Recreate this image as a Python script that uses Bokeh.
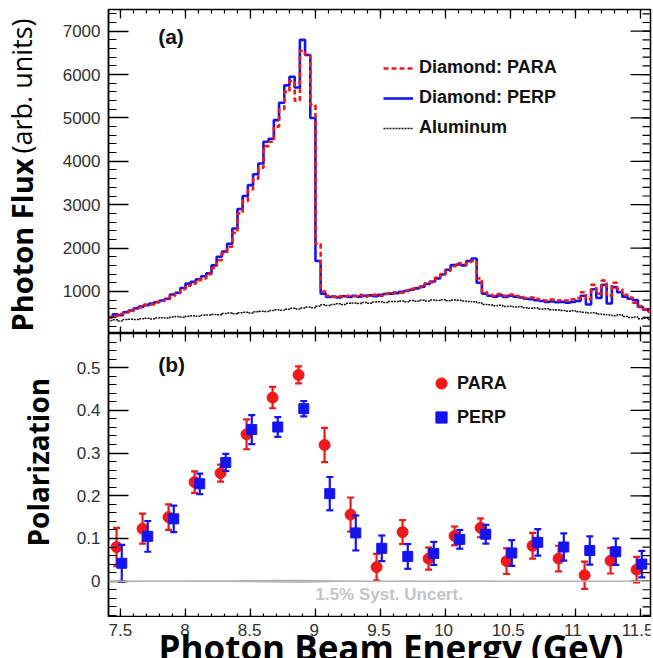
import math

from bokeh.core.properties import value
from bokeh.embed import file_html
from bokeh.layouts import column, row
from bokeh.models import (CustomJSTickFormatter, FixedTicker, Label, Legend,
                          LinearAxis, Range1d, Span)
from bokeh.plotting import figure
from bokeh.resources import INLINE

# ---------------------------------------------------------------- data
# Photon flux histograms, 0.04 GeV bins starting at 7.40 GeV
BIN_START = 7.40
BIN_WIDTH = 0.04

flux_perp = [
    410, 470, 450, 520, 560, 610, 650, 680, 720, 750,
    790, 830, 930, 970, 1080, 1180, 1220, 1280, 1350, 1420,
    1600, 1800, 1920, 2100, 2450, 2900, 3200, 3450, 3700, 3950,
    4450, 4520, 4950, 5350, 5750, 5950, 5700, 6800, 6450, 5000,
    1700, 950, 870, 880, 860, 890, 870, 900, 880, 900,
    910, 890, 920, 940, 950, 960, 990, 1010, 1040, 1070,
    1110, 1170, 1230, 1300, 1390, 1500, 1610, 1620, 1600, 1700,
    1760, 1200, 950, 900, 880, 910, 870, 900, 880, 860,
    830, 820, 800, 780, 760, 770, 750, 760, 740, 760,
    780, 900, 700, 1050, 850, 1150, 720, 1100, 980, 880,
    830, 800, 640, 580, 540,
]

flux_para = [
    400, 440, 480, 510, 540, 600, 630, 700, 700, 760,
    780, 820, 900, 960, 1050, 1130, 1180, 1260, 1300, 1400,
    1540, 1720, 1880, 2030, 2350, 2800, 3080, 3350, 3600, 3850,
    4350, 4450, 4800, 5200, 5600, 5850, 5400, 6550, 6450, 5300,
    2100, 1000, 900, 870, 890, 880, 900, 890, 920, 880,
    900, 920, 900, 950, 960, 980, 970, 1020, 1060, 1080,
    1100, 1190, 1210, 1320, 1400, 1480, 1580, 1650, 1620, 1680,
    1700, 1300, 980, 920, 900, 940, 900, 930, 900, 880,
    850, 860, 830, 800, 790, 810, 790, 800, 790, 820,
    850, 980, 820, 1150, 950, 1250, 900, 1200, 1050, 920,
    860, 740, 660, 590, 540,
]

flux_alu = [
    330, 345, 320, 350, 360, 355, 370, 380, 365, 385,
    395, 390, 410, 420, 405, 430, 440, 425, 450, 455,
    470, 460, 490, 500, 485, 510, 520, 505, 530, 545,
    535, 560, 575, 565, 590, 610, 595, 620, 640, 625,
    660, 690, 675, 700, 715, 700, 725, 735, 720, 745,
    730, 755, 760, 745, 770, 765, 780, 760, 790, 775,
    795, 780, 800, 790, 810, 785, 800, 795, 780, 770,
    760, 740, 700, 690, 670, 680, 655, 660, 640, 645,
    625, 610, 620, 595, 600, 580, 570, 560, 545, 555,
    530, 520, 500, 510, 480, 470, 455, 440, 460, 420,
    400, 410, 370, 380, 350,
]

# Polarization per 0.2 GeV energy bin
pol_energy = [7.5, 7.7, 7.9, 8.1, 8.3, 8.5, 8.7, 8.9, 9.1, 9.3, 9.5,
              9.7, 9.9, 10.1, 10.3, 10.5, 10.7, 10.9, 11.1, 11.3, 11.5]
pol_para = [0.080, 0.123, 0.150, 0.232, 0.253, 0.344, 0.430, 0.483, 0.319,
            0.156, 0.033, 0.115, 0.053, 0.106, 0.125, 0.047, 0.083, 0.053,
            0.014, 0.048, 0.027]
pol_para_err = [0.045, 0.035, 0.030, 0.025, 0.020, 0.035, 0.025, 0.020, 0.040,
                0.040, 0.031, 0.028, 0.026, 0.022, 0.022, 0.030, 0.030, 0.030,
                0.032, 0.030, 0.030]
pol_perp = [0.042, 0.105, 0.146, 0.228, 0.278, 0.355, 0.361, 0.404, 0.205,
            0.113, 0.077, 0.058, 0.065, 0.098, 0.110, 0.066, 0.091, 0.080,
            0.072, 0.069, 0.040]
pol_perp_err = [0.043, 0.036, 0.031, 0.024, 0.020, 0.034, 0.023, 0.018, 0.039,
                0.041, 0.030, 0.029, 0.027, 0.022, 0.022, 0.030, 0.031, 0.032,
                0.033, 0.031, 0.031]
SYST_FRACTION = 0.015

# axis ticks
energy_ticks = [7.5, 8, 8.5, 9, 9.5, 10, 10.5, 11, 11.5]
energy_tick_labels = ["7.5", "8", "8.5", "9", "9.5", "10", "10.5", "11", "11.5"]
flux_ticks = [1000, 2000, 3000, 4000, 5000, 6000, 7000]
pol_ticks = [0, 0.1, 0.2, 0.3, 0.4, 0.5]

# ---------------------------------------------------------------- style
RED = "#f01818"
BLUE = "#1414f0"
TICK_FONT = "Liberation Sans"
TITLE_FONT = "Open Sans"

X_LO, X_HI = 7.408, 11.577
FLUX_LO, FLUX_HI = 30, 7500
POL_LO, POL_HI = -0.085, 0.58

energy_minor = [round(7.4 + 0.1 * i, 1) for i in range(43)]
flux_minor = [200 * i for i in range(1, 38)]
pol_minor = [round(-0.08 + 0.02 * i, 2) for i in range(34)]

x_range = Range1d(X_LO, X_HI)


def new_panel(frame_h, y_range, top):
    p = figure(width=597, height=frame_h + top, x_range=x_range, y_range=y_range,
               output_backend="svg", toolbar_location=None,
               x_axis_location=None, y_axis_location=None,
               min_border_left=52, min_border_right=3,
               min_border_top=top, min_border_bottom=0)
    p.grid.visible = False
    p.outline_line_color = "black"
    p.outline_line_width = 1.5
    p.background_fill_color = "white"
    p.border_fill_color = "white"
    return p


def left_axis(p, ticks, minor, formatter=None):
    ax = LinearAxis(ticker=FixedTicker(ticks=ticks, minor_ticks=minor))
    if formatter is not None:
        ax.formatter = formatter
    ax.major_tick_in = 20
    ax.major_tick_out = 0
    ax.minor_tick_in = 8
    ax.minor_tick_out = 0
    ax.axis_line_color = "black"
    ax.axis_line_width = 1.5
    ax.major_tick_line_width = 1.3
    ax.minor_tick_line_width = 1.2
    ax.major_label_text_font = TICK_FONT
    ax.major_label_text_font_size = "17px"
    ax.major_label_text_color = "#303030"
    ax.major_label_standoff = 8
    p.add_layout(ax, "left")


def edge_ticks(p, xs_major, xs_minor, y_edge, major_len, minor_len):
    # inward ticks on a horizontal frame edge (half of each dash is clipped)
    p.scatter(xs_major, [y_edge] * len(xs_major), marker="dash",
              angle=math.pi / 2, size=2 * major_len, line_color="black",
              line_width=1.3)
    p.scatter(xs_minor, [y_edge] * len(xs_minor), marker="dash",
              angle=math.pi / 2, size=2 * minor_len, line_color="black",
              line_width=1.2)


def right_ticks(p, ys_major, ys_minor):
    p.scatter([X_HI] * len(ys_major), ys_major, marker="dash", size=40,
              line_color="black", line_width=1.3)
    p.scatter([X_HI] * len(ys_minor), ys_minor, marker="dash", size=16,
              line_color="black", line_width=1.2)


# ---------------------------------------------------------------- (a) flux
p1 = new_panel(324, Range1d(FLUX_LO, FLUX_HI), 9)
left_axis(p1, flux_ticks, flux_minor)
edge_ticks(p1, energy_ticks, energy_minor, FLUX_HI, 9, 4)
edge_ticks(p1, energy_ticks, energy_minor, FLUX_LO, 7, 4)
right_ticks(p1, flux_ticks, flux_minor)

edges = [round(BIN_START + BIN_WIDTH * i, 2) for i in range(len(flux_perp) + 1)]

r_alu = p1.step(edges, flux_alu + [flux_alu[-1]], mode="after",
                line_color="#111111", line_width=1.5, line_dash="2 1")
r_perp = p1.step(edges, flux_perp + [flux_perp[-1]], mode="after",
                 line_color=BLUE, line_width=2.6)
r_para = p1.step(edges, flux_para + [flux_para[-1]], mode="after",
                 line_color=RED, line_width=2.6, line_dash="5 3")

leg1 = Legend(items=[("Diamond: PARA", [r_para]), ("Diamond: PERP", [r_perp]),
                     ("Aluminum", [r_alu])],
              location=(275, 195), margin=0, padding=0, spacing=9,
              glyph_width=30, glyph_height=20, label_height=20, label_standoff=6,
              label_text_font=TICK_FONT, label_text_font_style="bold",
              label_text_font_size="18px", label_text_color="#111111",
              border_line_alpha=0, background_fill_alpha=0)
p1.add_layout(leg1)

p1.add_layout(Label(x=7.79, y=6608, text="(a)", text_font=TICK_FONT,
                    text_font_style="bold", text_font_size="21px",
                    text_color="#111111"))

# ---------------------------------------------------------------- (b) polarization
p2 = new_panel(284, Range1d(POL_LO, POL_HI), 0)
left_axis(p2, pol_ticks, pol_minor, CustomJSTickFormatter(code="return String(tick)"))
edge_ticks(p2, energy_ticks, energy_minor, POL_HI, 8, 4)
edge_ticks(p2, energy_ticks, energy_minor, POL_LO, 9, 4)
right_ticks(p2, pol_ticks, pol_minor)

# systematic-uncertainty band around zero
p2.add_layout(Span(location=0, dimension="width", line_color="#b4b4b4",
                   line_width=1.6))
band_hi = [SYST_FRACTION * v / 2 for v in pol_para]
band_lo = [-SYST_FRACTION * v / 2 for v in pol_para]
p2.varea(x=pol_energy, y1=band_lo, y2=band_hi, fill_color="#a8a8a8")

x_para = [e - 0.03 for e in pol_energy]
x_perp = [e + 0.01 for e in pol_energy]


def error_points(xs, ys, errs, color, marker, size):
    lo = [y - e for y, e in zip(ys, errs)]
    hi = [y + e for y, e in zip(ys, errs)]
    p2.segment(x0=xs, y0=lo, x1=xs, y1=hi, line_color=color, line_width=2.2)
    p2.scatter(xs + xs, lo + hi, marker="dash", size=7, line_color=color,
               line_width=2.2)
    return p2.scatter(xs, ys, marker=marker, size=size, fill_color=color,
                      line_color=color)


r_ppara = error_points(x_para, pol_para, pol_para_err, RED, "circle", 11)
r_pperp = error_points(x_perp, pol_perp, pol_perp_err, BLUE, "square", 10)

leg2 = Legend(items=[("PARA", [r_ppara]), ("PERP", [r_pperp])],
              location=(319, 186), margin=0, padding=0, spacing=6,
              glyph_width=28, glyph_height=28, label_height=28, label_standoff=2,
              label_text_font=TICK_FONT, label_text_font_style="bold",
              label_text_font_size="18px", label_text_color="#111111",
              border_line_alpha=0, background_fill_alpha=0)
p2.add_layout(leg2)

p2.add_layout(Label(x=7.79, y=0.481, text="(b)", text_font=TICK_FONT,
                    text_font_style="bold", text_font_size="21px",
                    text_color="#111111"))
p2.add_layout(Label(x=9.0, y=-0.054, text="1.5% Syst. Uncert.",
                    text_font=TICK_FONT, text_font_style="bold",
                    text_font_size="17px", text_color="#c4c4c4"))

# ---------------------------------------------------------------- energy axis labels
# strip below the lower panel, sharing its horizontal scale (130 px per GeV)
xb = figure(width=597, height=41, x_range=Range1d(X_LO, X_HI + 3 / 130),
            y_range=Range1d(0, 41), output_backend="svg", toolbar_location=None,
            x_axis_location=None, y_axis_location=None,
            min_border_left=52, min_border_right=0, min_border_top=0,
            min_border_bottom=0)
xb.grid.visible = False
xb.outline_line_color = None
xb.text(x=energy_ticks, y=[29] * len(energy_ticks), text=energy_tick_labels,
        text_align="center", text_baseline="alphabetic",
        text_font=value(TICK_FONT), text_font_size="17px", text_color="#303030")
xb.text(x=[7.795], y=[11], text=["Photon Beam Energy (GeV)"],
        text_align="left", text_baseline="alphabetic",
        text_font=value(TITLE_FONT), text_font_style="bold",
        text_font_size="35px", text_color="black")

# ---------------------------------------------------------------- vertical titles
yl = figure(width=56, height=658, x_range=Range1d(0, 56), y_range=Range1d(0, 658),
            output_backend="svg", toolbar_location=None,
            x_axis_location=None, y_axis_location=None, min_border=0)
yl.grid.visible = False
yl.outline_line_color = None
yl.text(x=[21], y=[327], text=["Photon Flux"], angle=math.pi / 2,
        text_align="left", text_baseline="alphabetic",
        text_font=value(TITLE_FONT), text_font_style="bold",
        text_font_size="29px", text_color="black")
yl.text(x=[21], y=[505], text=["(arb. units)"], angle=math.pi / 2,
        text_align="left", text_baseline="alphabetic",
        text_font=value(TITLE_FONT), text_font_style="normal",
        text_font_size="27px", text_color="black")
yl.text(x=[37], y=[112], text=["Polarization"], angle=math.pi / 2,
        text_align="left", text_baseline="alphabetic",
        text_font=value(TITLE_FONT), text_font_style="bold",
        text_font_size="28px", text_color="black")

layout = row(yl, column(p1, p2, xb, spacing=0), spacing=0)
open("out.html", "w").write(file_html(layout, INLINE))
